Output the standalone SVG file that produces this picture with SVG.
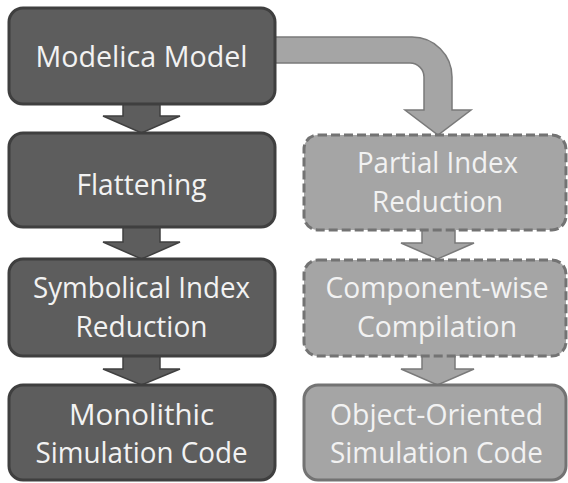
<svg xmlns="http://www.w3.org/2000/svg" width="568" height="483" viewBox="0 0 568 483">
<style>
.dark{fill:#5d5d5d;stroke:#3f3f3f;stroke-width:3}
.light{fill:#a5a5a5;stroke:#737373;stroke-width:3;stroke-dasharray:9 4}
.lightsolid{fill:#a5a5a5;stroke:#737373;stroke-width:3}
.adark{fill:#5d5d5d;stroke:#404040;stroke-width:1.5;stroke-linejoin:miter}
.alight{fill:#a5a5a5;stroke:#7a7a7a;stroke-width:1.5;stroke-linejoin:miter}
text{font-family:"Open Sans","Liberation Sans",sans-serif;font-size:30px;fill:#f2f2f2;text-anchor:middle}
</style>
<rect width="568" height="483" fill="#ffffff"/>
<g id="connectors">
<path class="adark" d="M123 100 V116 H103 L141.5 133 L180 116 H160 V100 Z"/>
<path class="adark" d="M123 224 V242 H103 L141.5 259 L180 242 H160 V224 Z"/>
<path class="adark" d="M123 353 V369 H103 L141.5 385 L180 369 H160 V353 Z"/>
<path class="alight" d="M272 37 H412 A40 40 0 0 1 452 77 V110 H471 L438 135 L405 110 H424 V77 A14 14 0 0 0 410 63 H272 Z"/>
<path class="alight" d="M422 227 V243 H401 L437.5 259 L474 243 H455 V227 Z"/>
<path class="alight" d="M422 353 V369 H401 L437.5 385 L474 369 H455 V353 Z"/>
</g>
<g id="modelica-model">
<rect class="dark" x="9" y="8" width="266" height="96" rx="14"/>
<text x="141.5" y="67" textLength="212" lengthAdjust="spacingAndGlyphs">Modelica Model</text>
</g>
<g id="flattening">
<rect class="dark" x="9" y="133" width="266" height="94" rx="14"/>
<text x="141.5" y="195" textLength="130" lengthAdjust="spacingAndGlyphs">Flattening</text>
</g>
<g id="symbolical-index-reduction">
<rect class="dark" x="9" y="259" width="266" height="97" rx="14"/>
<text x="141.5" y="298" textLength="217" lengthAdjust="spacingAndGlyphs">Symbolical Index</text>
<text x="141.5" y="337" textLength="132" lengthAdjust="spacingAndGlyphs">Reduction</text>
</g>
<g id="monolithic-simulation-code">
<rect class="dark" x="9" y="385" width="266" height="95" rx="14"/>
<text x="141.5" y="425" textLength="145" lengthAdjust="spacingAndGlyphs">Monolithic</text>
<text x="141.5" y="463" textLength="212" lengthAdjust="spacingAndGlyphs">Simulation Code</text>
</g>
<g id="partial-index-reduction">
<rect class="light" x="304" y="135" width="262" height="95" rx="14"/>
<text x="437.5" y="173" textLength="161" lengthAdjust="spacingAndGlyphs">Partial Index</text>
<text x="437.5" y="212" textLength="131" lengthAdjust="spacingAndGlyphs">Reduction</text>
</g>
<g id="component-wise-compilation">
<rect class="light" x="304" y="260" width="262" height="96" rx="14"/>
<text x="437" y="298" textLength="223" lengthAdjust="spacingAndGlyphs">Component-wise</text>
<text x="437" y="337" textLength="160" lengthAdjust="spacingAndGlyphs">Compilation</text>
</g>
<g id="object-oriented-simulation-code">
<rect class="lightsolid" x="304" y="385" width="262" height="95" rx="14"/>
<text x="436.5" y="425" textLength="213" lengthAdjust="spacingAndGlyphs">Object-Oriented</text>
<text x="436.5" y="463" textLength="213" lengthAdjust="spacingAndGlyphs">Simulation Code</text>
</g>
</svg>
